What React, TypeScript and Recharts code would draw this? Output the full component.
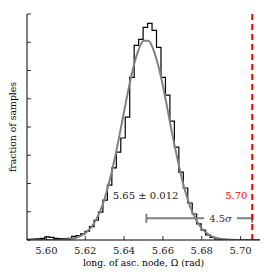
import React from 'react';
import { ComposedChart, Line, XAxis, YAxis, ReferenceLine, ReferenceDot } from 'recharts';

// Histogram bin edges (rad) and bin heights (arbitrary fraction units)
const binEdges = [
  5.5900, 5.5923, 5.5946, 5.5969, 5.5992, 5.6015, 5.6038, 5.6061, 5.6084, 5.6107,
  5.6130, 5.6153, 5.6176, 5.6199, 5.6222, 5.6245, 5.6268, 5.6291, 5.6314, 5.6337,
  5.6360, 5.6383, 5.6406, 5.6429, 5.6452, 5.6475, 5.6498, 5.6521, 5.6544, 5.6567,
  5.6590, 5.6613, 5.6636, 5.6659, 5.6682, 5.6705, 5.6728, 5.6751, 5.6774, 5.6797,
  5.6820, 5.6843, 5.6866, 5.6889, 5.6912, 5.6935, 5.6958, 5.6981, 5.7004,
];
const binHeights = [
  0.02, 0.03, 0.04, 0.06, 0.11, 0.09, 0.06, 0.05, 0.05, 0.06,
  0.13, 0.16, 0.22, 0.31, 0.47, 0.70, 0.99, 1.41, 1.94, 2.55,
  3.11, 3.61, 4.35, 5.76, 6.89, 7.10, 7.53, 7.67, 7.42, 6.82,
  5.76, 5.13, 4.21, 3.29, 2.40, 1.84, 1.31, 0.92, 0.57, 0.35,
  0.18, 0.09, 0.04, 0.03, 0.02, 0.01, 0.01, 0.01,
];

// Gaussian fit curve
const fitX = [
  5.590, 5.595, 5.600, 5.605, 5.610, 5.615, 5.620, 5.625, 5.630, 5.635,
  5.640, 5.6425, 5.645, 5.6475, 5.650, 5.6525, 5.655, 5.6575, 5.660, 5.665,
  5.670, 5.675, 5.680, 5.685, 5.690, 5.695, 5.700, 5.705, 5.710,
];
const fitY = [
  0.000, 0.000, 0.001, 0.004, 0.019, 0.073, 0.236, 0.642, 1.47, 2.82,
  4.55, 5.42, 6.18, 6.74, 7.05, 7.05, 6.76, 6.20, 5.45, 3.69,
  2.11, 1.01, 0.406, 0.137, 0.039, 0.009, 0.002, 0.000, 0.000,
];

const xTicks = [5.60, 5.62, 5.64, 5.66, 5.68, 5.70];
const yTicks = [0, 1, 2, 3, 4, 5, 6, 7, 8];
const xDomain = [5.59, 5.71];
const yDomain = [0, 8];

const meanValue = 5.6515;
const trueValue = 5.706;
const errorbarY = 0.77;
const capHalf = 0.16;
const gapStart = 5.6812;
const gapEnd = 5.6981;

const meanLabel = '5.65 ± 0.012';
const trueLabel = '5.70';
const sigmaLabelNum = '4.5';
const sigmaLabelSym = 'σ';
const meanLabelPos = { x: 5.6511, y: 1.45 };
const trueLabelPos = { x: 5.6978, y: 1.45 };
const sigmaLabelPos = { x: 5.6897, y: 0.62 };

const xLabel = 'long. of asc. node, Ω (rad)';
const yLabel = 'fraction of samples';

const histData: { x: number; hist: number }[] = [];
histData.push({ x: binEdges[0], hist: 0 });
binHeights.forEach((h, i) => histData.push({ x: binEdges[i], hist: h }));
histData.push({ x: binEdges[binEdges.length - 1], hist: binHeights[binHeights.length - 1] });
histData.push({ x: binEdges[binEdges.length - 1], hist: 0 });

const fitData = fitX.map((x, i) => ({ x, fit: fitY[i] }));

const FONT = '"DejaVu Serif", serif';
const GRAY = '#808080';

const BottomTick = (p: any) => (
  <g>
    <line x1={p.x} y1={p.y} x2={p.x} y2={p.y - 4} stroke="#000" strokeWidth={0.8} />
    <text x={p.x} y={p.y + 14} textAnchor="middle" fontFamily={FONT} fontSize={10} fill="#222">
      {Number(p.payload.value).toFixed(2)}
    </text>
  </g>
);
const TopTick = (p: any) => (
  <line x1={p.x} y1={p.y} x2={p.x} y2={p.y + 4} stroke="#000" strokeWidth={0.8} />
);
const LeftTick = (p: any) => (
  <line x1={p.x} y1={p.y} x2={p.x + 4} y2={p.y} stroke="#000" strokeWidth={0.8} />
);
const RightTick = (p: any) => (
  <line x1={p.x} y1={p.y} x2={p.x - 4} y2={p.y} stroke="#000" strokeWidth={0.8} />
);

export default function App() {
  return (
    <div style={{ position: 'absolute', left: 0, top: 0, width: 274, height: 274, background: '#fff' }}>
      <ComposedChart width={274} height={274} margin={{ top: 14, right: 14, bottom: 0, left: 0 }}>
        <XAxis
          dataKey="x"
          type="number"
          domain={xDomain}
          ticks={xTicks}
          allowDataOverflow
          height={34}
          tickSize={0}
          tickMargin={0}
          tickLine={false}
          tick={BottomTick}
          axisLine={{ stroke: '#000', strokeWidth: 1 }}
          label={(p: any) => (
            <text
              x={p.viewBox.x + p.viewBox.width / 2}
              y={p.viewBox.y + 25.5}
              textAnchor="middle"
              fontFamily={FONT}
              fontSize={9.2}
              fill="#000"
            >
              {xLabel}
            </text>
          )}
        />
        <XAxis
          xAxisId="top"
          orientation="top"
          dataKey="x"
          type="number"
          domain={xDomain}
          ticks={xTicks}
          allowDataOverflow
          height={0}
          tickSize={0}
          tickMargin={0}
          tickLine={false}
          tick={TopTick}
          axisLine={{ stroke: '#000', strokeWidth: 1 }}
        />
        <YAxis
          type="number"
          domain={yDomain}
          ticks={yTicks}
          allowDataOverflow
          width={27}
          tickSize={0}
          tickMargin={0}
          tickLine={false}
          tick={LeftTick}
          axisLine={{ stroke: '#000', strokeWidth: 1 }}
          label={(p: any) => (
            <text
              x={16}
              y={p.viewBox.y + p.viewBox.height / 2}
              transform={`rotate(-90, 16, ${p.viewBox.y + p.viewBox.height / 2})`}
              textAnchor="middle"
              fontFamily={FONT}
              fontSize={9.3}
              fill="#000"
            >
              {yLabel}
            </text>
          )}
        />
        <YAxis
          yAxisId="right"
          orientation="right"
          type="number"
          domain={yDomain}
          ticks={yTicks}
          allowDataOverflow
          width={0}
          tickSize={0}
          tickMargin={0}
          tickLine={false}
          tick={RightTick}
          axisLine={{ stroke: '#000', strokeWidth: 1 }}
        />
        <Line
          data={histData}
          dataKey="hist"
          type="stepAfter"
          stroke="#000"
          strokeWidth={1.2}
          dot={false}
          activeDot={false}
          isAnimationActive={false}
        />
        <Line
          data={fitData}
          dataKey="fit"
          type="monotone"
          stroke={GRAY}
          strokeWidth={2}
          dot={false}
          activeDot={false}
          isAnimationActive={false}
        />
        <ReferenceLine
          segment={[{ x: meanValue, y: errorbarY }, { x: gapStart, y: errorbarY }]}
          stroke={GRAY}
          strokeWidth={2}
        />
        <ReferenceLine
          segment={[{ x: gapEnd, y: errorbarY }, { x: trueValue, y: errorbarY }]}
          stroke={GRAY}
          strokeWidth={2}
        />
        <ReferenceLine
          segment={[{ x: meanValue, y: errorbarY - capHalf }, { x: meanValue, y: errorbarY + capHalf }]}
          stroke={GRAY}
          strokeWidth={2}
        />
        <ReferenceLine
          segment={[{ x: trueValue, y: errorbarY - capHalf }, { x: trueValue, y: errorbarY + capHalf }]}
          stroke={GRAY}
          strokeWidth={2}
        />
        <ReferenceDot
          x={meanLabelPos.x}
          y={meanLabelPos.y}
          r={0}
          stroke="none"
          fill="none"
          label={(p: any) => (
            <text x={p.viewBox.x} y={p.viewBox.y} textAnchor="middle" fontFamily={FONT} fontSize={10} fill="#222">
              {meanLabel}
            </text>
          )}
        />
        <ReferenceDot
          x={sigmaLabelPos.x}
          y={sigmaLabelPos.y}
          r={0}
          stroke="none"
          fill="none"
          label={(p: any) => (
            <text x={p.viewBox.x} y={p.viewBox.y} textAnchor="middle" fontFamily={FONT} fontSize={10} fill="#333">
              {sigmaLabelNum}
              <tspan fontStyle="italic">{sigmaLabelSym}</tspan>
            </text>
          )}
        />
        <ReferenceDot
          x={trueLabelPos.x}
          y={trueLabelPos.y}
          r={0}
          stroke="none"
          fill="none"
          label={(p: any) => (
            <text x={p.viewBox.x} y={p.viewBox.y} textAnchor="middle" fontFamily={FONT} fontSize={10} fill="#ff0000">
              {trueLabel}
            </text>
          )}
        />
        <ReferenceLine x={trueValue} stroke="#ff0000" strokeWidth={2} strokeDasharray="6 4" />
      </ComposedChart>
    </div>
  );
}
